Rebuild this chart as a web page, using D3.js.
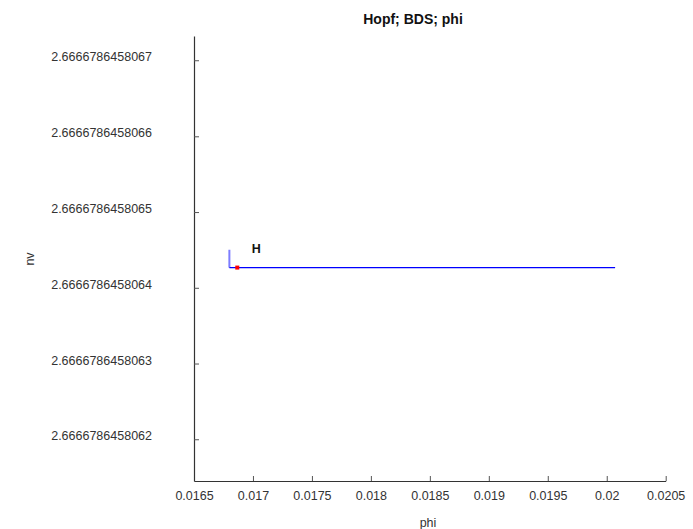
<!DOCTYPE html>
<html>
<head>
<meta charset="utf-8">
<script src="https://cdn.jsdelivr.net/npm/d3@7"></script>
<style>
  body { margin: 0; background: #fff; }
  svg { display: block; font-family: "Liberation Sans", Arial, Helvetica, sans-serif; }
</style>
</head>
<body>
<script>
// ---- data ----
const title = "Hopf; BDS; phi";
const xLabel = "phi";
const yLabel = "nv";
const xTickValues = [0.0165, 0.017, 0.0175, 0.018, 0.0185, 0.019, 0.0195, 0.02, 0.0205];
const xTickLabels = ["0.0165", "0.017", "0.0175", "0.018", "0.0185", "0.019", "0.0195", "0.02", "0.0205"];
const yTickValues = [2.6666786458062, 2.6666786458063, 2.6666786458064, 2.6666786458065, 2.6666786458066, 2.6666786458067];
const yTickLabels = ["2.6666786458062", "2.6666786458063", "2.6666786458064", "2.6666786458065", "2.6666786458066", "2.6666786458067"];
const xDomain = [0.0165, 0.0205];
const yDomain = [2.666678645806145, 2.666678645806732];
// main branch (blue)
const branchX = [0.0168, 0.020071];
const branchY = [2.6666786458064267, 2.6666786458064267];
// short initial segment (light blue)
const stubX = [0.0168, 0.0168];
const stubY = [2.666678645806450, 2.6666786458064267];
// Hopf point
const hopfX = [0.016867];
const hopfY = [2.6666786458064267];
const hopfLabel = ["H"];

// ---- layout ----
const W = 693, H = 529;
const m = { left: 194, right: 693 - 665.7, top: 36, bottom: 529 - 481 };
const svg = d3.select("body").append("svg").attr("width", W).attr("height", H);

const x = d3.scaleLinear().domain(xDomain).range([m.left, W - m.right]);
const y = d3.scaleLinear().domain(yDomain).range([H - m.bottom, m.top]);

// axes (ticks inward)
const xAxis = d3.axisBottom(x).tickValues(xTickValues)
  .tickFormat((d, i) => xTickLabels[i]).tickSizeInner(-5).tickSizeOuter(0).tickPadding(10);
const gx = svg.append("g").attr("transform", `translate(0,${H - m.bottom})`).call(xAxis);
gx.select(".domain").attr("stroke", "#333").attr("stroke-width", 1.2);
gx.selectAll(".tick line").attr("stroke", "#555");
gx.selectAll(".tick text").attr("font-size", "12.5px").attr("fill", "#333");

const yAxis = d3.axisLeft(y).tickValues(yTickValues)
  .tickFormat((d, i) => yTickLabels[i]).tickSizeInner(-5).tickSizeOuter(0).tickPadding(42);
const gy = svg.append("g").attr("transform", `translate(${m.left},0)`).call(yAxis);
gy.select(".domain").attr("stroke", "#333").attr("stroke-width", 1.2);
gy.selectAll(".tick line").attr("stroke", "#555");
gy.selectAll(".tick text").attr("font-size", "12.5px").attr("fill", "#333").attr("dy", "0.05em");

// lines
const line = d3.line().x(d => x(d[0])).y(d => y(d[1]));
svg.append("path").datum(d3.zip(stubX, stubY)).attr("d", line)
  .attr("fill", "none").attr("stroke", "#7d7dff").attr("stroke-width", 2);
svg.append("path").datum(d3.zip(branchX, branchY)).attr("d", line)
  .attr("fill", "none").attr("stroke", "#0000ff").attr("stroke-width", 1.3);

// Hopf point
svg.selectAll("rect.hopf").data(d3.zip(hopfX, hopfY)).join("rect").attr("class", "hopf")
  .attr("x", d => x(d[0]) - 2).attr("y", d => y(d[1]) - 2)
  .attr("width", 4).attr("height", 4).attr("fill", "#ff0000");
svg.selectAll("text.hopflab").data(d3.zip(hopfX, hopfY, hopfLabel)).join("text").attr("class", "hopflab")
  .attr("x", d => x(d[0]) + 14.5).attr("y", d => y(d[1]) - 14.5)
  .attr("font-size", "12.5px").attr("font-weight", "bold").attr("fill", "#111")
  .text(d => d[2]);

// title & labels
svg.append("text").attr("x", 413).attr("y", 24).attr("text-anchor", "middle")
  .attr("font-size", "14px").attr("font-weight", "bold").attr("fill", "#111").text(title);
svg.append("text").attr("x", 428).attr("y", 527).attr("text-anchor", "middle")
  .attr("font-size", "12.5px").attr("fill", "#333").text(xLabel);
svg.append("text").attr("transform", `translate(34,259) rotate(-90)`).attr("text-anchor", "middle")
  .attr("font-size", "12.5px").attr("fill", "#333").text(yLabel);
</script>
</body>
</html>
